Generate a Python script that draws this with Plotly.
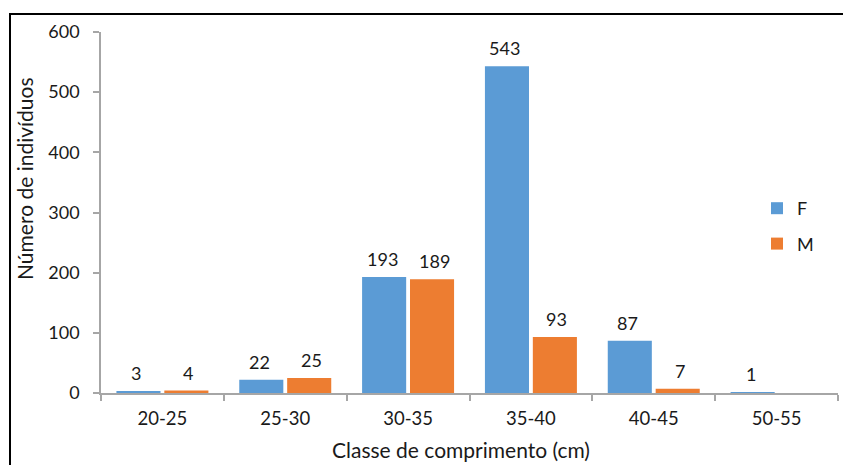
import plotly.graph_objects as go

# Length classes (cm) and number of individuals per sex
classes = ["20-25", "25-30", "30-35", "35-40", "40-45", "50-55"]
females = [3, 22, 193, 543, 87, 1]
males = [4, 25, 189, 93, 7, None]

y_ticks = [0, 100, 200, 300, 400, 500, 600]

BLUE = "#5B9BD5"
ORANGE = "#ED7D31"
AXIS = "#A6A6A6"
TEXT = "#1a1a1a"
FONT = "Lato"

W, H = 843, 465
ML, MR, MT, MB = 101, 5, 32, 72

fig = go.Figure()
fig.add_trace(go.Bar(name="F", x=classes, y=females, marker=dict(color=BLUE, line=dict(width=0)),
                     legendgroup="F"))
fig.add_trace(go.Bar(name="M", x=classes, y=males, marker=dict(color=ORANGE, line=dict(width=0)),
                     legendgroup="M"))

# value labels above each bar
annotations = []
for vals, dx in ((females, -26), (males, 26)):
    for c, v in zip(classes, vals):
        if v is None:
            continue
        annotations.append(dict(x=c, y=v, xref="x", yref="y", text=str(v), showarrow=False,
                                xshift=dx, yshift=18, yanchor="middle",
                                font=dict(family=FONT, size=18, color=TEXT)))

pw = W - ML - MR
ph = H - MT - MB

# axis titles
annotations.append(dict(text="Classe de comprimento (cm)", xref="paper", yref="paper",
                        x=(461 - ML) / pw, y=-(H - 1 - (H - MB)) / ph,
                        yanchor="bottom", xanchor="center", showarrow=False,
                        font=dict(family=FONT, size=21, color=TEXT)))
annotations.append(dict(text="Número de indivíduos", xref="paper", yref="paper",
                        x=-(ML - 24) / pw, y=((H - MB) - 179) / ph,
                        xanchor="center", yanchor="middle", textangle=-90, showarrow=False,
                        font=dict(family=FONT, size=21, color=TEXT)))

# outer frame of the chart
shapes = [dict(type="rect", xref="paper", yref="paper",
               x0=(10 - ML) / pw, x1=(W + 5 - ML) / pw,
               y0=-(H + 5 - (H - MB)) / ph, y1=((H - MB) - 14) / ph,
               line=dict(color="black", width=2), fillcolor="rgba(0,0,0,0)", layer="below")]

fig.update_layout(
    width=W, height=H,
    margin=dict(l=ML, r=MR, t=MT, b=MB, autoexpand=False),
    paper_bgcolor="white", plot_bgcolor="white",
    barmode="group", bargap=0.22, bargroupgap=0.08,
    font=dict(family=FONT, size=18, color=TEXT),
    showlegend=True,
    legend=dict(x=(757 - ML) / pw, y=((H - MB) - 190) / ph, xanchor="left", yanchor="top",
                font=dict(family=FONT, size=18, color=TEXT), bgcolor="rgba(0,0,0,0)",
                traceorder="grouped", tracegroupgap=9),
    annotations=annotations,
    shapes=shapes,
)
fig.update_xaxes(type="category", categoryarray=classes, showline=True, linecolor=AXIS, linewidth=1.5,
                 ticks="outside", tickson="boundaries", ticklen=6, tickcolor=AXIS, tickwidth=1.5,
                 showgrid=False, zeroline=False, ticklabelstandoff=8,
                 tickfont=dict(family=FONT, size=18.5, color=TEXT))
fig.update_yaxes(range=[0, 600], tickvals=y_ticks, showline=True, linecolor=AXIS, linewidth=1.5,
                 ticks="outside", ticklen=6, tickcolor=AXIS, tickwidth=1.5,
                 showgrid=False, zeroline=False, ticklabelstandoff=10,
                 tickfont=dict(family=FONT, size=18, color=TEXT))

fig.write_html("out.html")
